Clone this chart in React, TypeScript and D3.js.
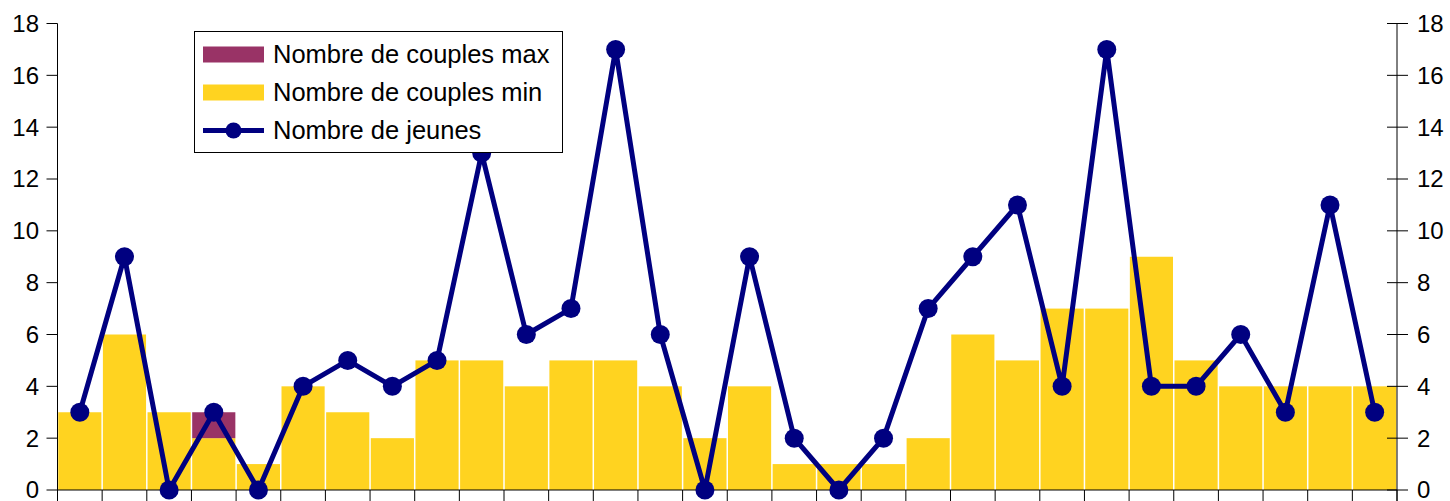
import React from "react";
import * as d3 from "d3";

const categories: string[] = Array.from({ length: 30 }, (_, i) => `C${i + 1}`);
const couplesMin: number[] = [3, 6, 3, 2, 1, 4, 3, 2, 5, 5, 4, 5, 5, 4, 2, 4, 1, 1, 1, 2, 6, 5, 7, 7, 9, 5, 4, 4, 4, 4];
const couplesMax: number[] = [3, 6, 3, 3, 1, 4, 3, 2, 5, 5, 4, 5, 5, 4, 2, 4, 1, 1, 1, 2, 6, 5, 7, 7, 9, 5, 4, 4, 4, 4];
const jeunes: number[] = [3, 9, 0, 3, 0, 4, 5, 4, 5, 13, 6, 7, 17, 6, 0, 9, 2, 0, 2, 7, 9, 11, 4, 17, 4, 4, 6, 3, 11, 3];
const yTicks: number[] = [0, 2, 4, 6, 8, 10, 12, 14, 16, 18];
const legendLabels: string[] = ["Nombre de couples max", "Nombre de couples min", "Nombre de jeunes"];

const W = 1450;
const H = 501;
const left = 57.5;
const right = 1397;
const top = 23.5;
const bottom = 490;

const YELLOW = "#FFD320";
const MAROON = "#993366";
const NAVY = "#000080";
const FONT = "'Liberation Sans', Arial, sans-serif";

export default function App() {
  const x = d3.scaleBand<string>().domain(categories).range([left, right]).padding(0);
  const y = d3.scaleLinear().domain([0, 18]).range([bottom, top]);
  const bw = x.bandwidth();
  const line = d3
    .line<number>()
    .x((_, i) => (x(categories[i]) as number) + bw / 2)
    .y((d) => y(d));

  const boundaries = categories.map((c) => x(c) as number).concat([right]);

  return (
    <svg
      width={W}
      height={H}
      style={{ position: "absolute", left: 0, top: 0, background: "#fff" }}
      fontFamily={FONT}
    >
      <rect x={0} y={0} width={W} height={H} fill="#fff" />
      {/* min bars */}
      {couplesMin.map((v, i) => {
        const x0 = (x(categories[i]) as number) + 0.75;
        return (
          <rect key={`min${i}`} x={x0} y={y(v)} width={bw - 1.5} height={y(0) - y(v)} fill={YELLOW} />
        );
      })}
      {/* max bars (stacked part) */}
      {couplesMax.map((v, i) => {
        const m = couplesMin[i];
        if (v <= m) return null;
        const x0 = (x(categories[i]) as number) + 0.75;
        return <rect key={`max${i}`} x={x0} y={y(v)} width={bw - 1.5} height={y(m) - y(v)} fill={MAROON} />;
      })}
      {/* x axis */}
      <line x1={left} x2={right} y1={bottom} y2={bottom} stroke="#000" strokeWidth={1} />
      {boundaries.map((b, i) => (
        <line key={`xt${i}`} x1={b} x2={b} y1={bottom} y2={H} stroke="#000" strokeWidth={1} />
      ))}
      {/* left axis */}
      <line x1={left} x2={left} y1={top} y2={H} stroke="#000" strokeWidth={1} />
      {yTicks.map((t) => (
        <g key={`yl${t}`}>
          <line x1={left - 11} x2={left} y1={y(t)} y2={y(t)} stroke="#000" strokeWidth={1} />
          <text x={39} y={y(t)} dy="0.35em" textAnchor="end" fontSize={24} fill="#000">
            {t}
          </text>
        </g>
      ))}
      {/* right axis */}
      <line x1={right} x2={right} y1={top} y2={H} stroke="#000" strokeWidth={1} />
      {yTicks.map((t) => (
        <g key={`yr${t}`}>
          <line x1={right - 10} x2={right + 11} y1={y(t)} y2={y(t)} stroke="#000" strokeWidth={1} />
          <text x={1417} y={y(t)} dy="0.35em" textAnchor="start" fontSize={24} fill="#000">
            {t}
          </text>
        </g>
      ))}
      {/* line series */}
      <path d={line(jeunes) || ""} fill="none" stroke={NAVY} strokeWidth={5} strokeLinejoin="round" />
      {jeunes.map((v, i) => (
        <circle key={`pt${i}`} cx={(x(categories[i]) as number) + bw / 2} cy={y(v)} r={9.5} fill={NAVY} />
      ))}
      {/* legend */}
      <g>
        <rect x={194.5} y={31.5} width={368} height={121} fill="#fff" stroke="#000" strokeWidth={1} />
        <rect x={203} y={46.5} width={61} height={16} fill={MAROON} />
        <rect x={203} y={84.5} width={61} height={16} fill={YELLOW} />
        <line x1={203} x2={264} y1={130.5} y2={130.5} stroke={NAVY} strokeWidth={5} />
        <circle cx={233.5} cy={130.5} r={8} fill={NAVY} />
        {legendLabels.map((l, i) => (
          <text key={l} x={273} y={54.5 + i * 38} dy="0.35em" fontSize={25.5} fill="#000">
            {l}
          </text>
        ))}
      </g>
    </svg>
  );
}
